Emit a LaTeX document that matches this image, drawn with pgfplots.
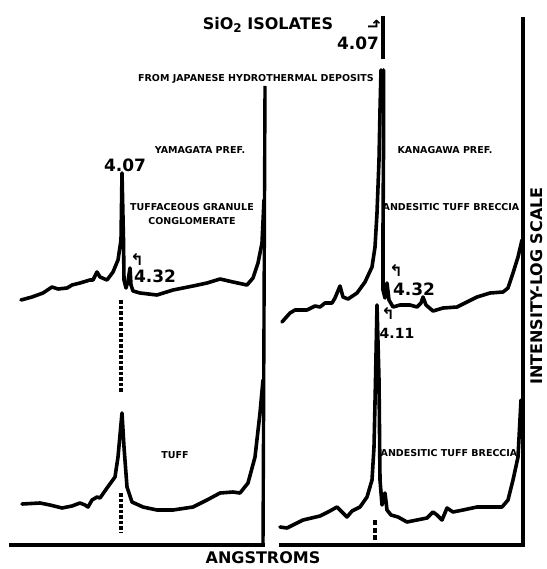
\documentclass[border=0pt]{standalone}
\usepackage{fontspec}
\setmainfont{DejaVu Sans}
\newfontfamily\sym{DejaVu Sans}
\usepackage{pgfplots}
\pgfplotsset{compat=1.18}
\begin{document}
\begin{tikzpicture}
\begin{axis}[
  width=546pt, height=569pt, scale only axis,
  xmin=0, xmax=546, ymin=0, ymax=569, y dir=reverse,
  hide axis, clip=false,
]
\path (axis cs:0,0) rectangle (axis cs:546,569);
% frame lines
\addplot[black, no markers, line width=3.4pt] coordinates {(265,86) (263,546.5)};
\addplot[black, no markers, line width=3.4pt] coordinates {(523,17) (523,546.5)};
\addplot[black, no markers, line width=3.4pt] coordinates {(9,545) (264.5,545)};
\addplot[black, no markers, line width=3.4pt] coordinates {(279,545) (524.5,545)};
% left top trace: tuffaceous granule conglomerate
\addplot[black, no markers, line width=3.6pt, line join=round, line cap=round] coordinates {(21,300) (32,297) (43,293) (52,287) (58,289) (67,288) (72,285) (80,283) (90,280) (93,280) (97,272) (100,277) (107,280) (113,272) (118,260) (121,240) (122,173) (123.5,240) (124,280) (126,288) (128,281) (130,268) (131,285) (133,291) (140,293) (157,295) (173,290) (193,286) (207,283) (220,279) (233,282) (247,285) (253,278) (258,263) (262,243) (264,200)};
% left bottom trace: tuff
\addplot[black, no markers, line width=3.6pt, line join=round, line cap=round] coordinates {(22,504) (40,503) (50,505) (62,508) (72,506) (80,503) (85,505) (88,507) (92,500) (97,497) (100,498) (107,488) (115,477) (118,457) (122,413) (124,447) (127,487) (132,502) (143,507) (157,510) (173,510) (193,507) (207,500) (220,493) (233,492) (240,493) (248,483) (255,457) (260,413) (263,380)};
% right top trace
\addplot[black, no markers, line width=3.6pt, line join=round, line cap=round] coordinates {(282,322) (290,313) (295,310) (307,310) (315,306) (320,307) (325,303) (332,303) (335,298) (340,286) (343,297) (348,299) (357,293) (365,282) (372,267) (375,247) (377,213) (379,160) (380,110) (381,70)};
\addplot[black, no markers, line width=3.4pt] coordinates {(383,59) (383,16)};
\addplot[black, no markers, line width=3.6pt, line join=round, line cap=round] coordinates {(383.5,70) (383.5,150) (383,230) (383,290) (385,298) (387,283) (389,300) (393,307) (400,305) (410,305) (417,307) (421,303) (423,297) (426,305) (433,311) (443,308) (457,307) (467,302) (477,297) (490,293) (503,292) (508,288) (513,273) (518,257) (522,240)};
% right bottom trace
\addplot[black, no markers, line width=3.6pt, line join=round, line cap=round] coordinates {(280,527) (287,528) (303,520) (320,516) (328,512) (337,507) (342,512) (347,517) (352,511) (360,507) (367,497) (372,480) (374,447) (375.5,380) (377,305) (379,380) (380,480) (382,505) (385,493) (387,510) (391,515) (398,517) (407,522) (417,520) (427,518) (433,512) (437,515) (442,520) (447,508) (453,512) (463,510) (477,507) (490,507) (502,507) (508,500) (513,480) (518,457) (521,400)};
% dotted markers
\addplot[black, no markers, line width=3.4pt, dash pattern=on 3.5pt off 2pt] coordinates {(121,300) (121,392)};
\addplot[black, no markers, line width=3.4pt, dash pattern=on 3.5pt off 2pt] coordinates {(121,493) (121,533)};
\addplot[black, no markers, line width=3.6pt, dash pattern=on 5pt off 2.5pt] coordinates {(375,520) (375,541)};
% labels
\node[font=\bfseries\fontsize{16}{16}\selectfont] at (axis cs:268,25) {SiO\raisebox{-0.35ex}{\fontsize{12}{12}\selectfont 2} ISOLATES};
\node[font=\bfseries\fontsize{17}{17}\selectfont] at (axis cs:358,43) {4.07};
\node[font=\sym\bfseries\fontsize{16}{16}\selectfont, rotate=-90] at (axis cs:375,24) {↰};
\node[font=\bfseries\fontsize{9.5}{9.5}\selectfont] at (axis cs:256,79) {FROM JAPANESE HYDROTHERMAL DEPOSITS};
\node[font=\bfseries\fontsize{9.5}{9.5}\selectfont] at (axis cs:200,150) {YAMAGATA PREF.};
\node[font=\bfseries\fontsize{9.5}{9.5}\selectfont] at (axis cs:445,150) {KANAGAWA PREF.};
\node[font=\bfseries\fontsize{17}{17}\selectfont] at (axis cs:125,165) {4.07};
\node[font=\bfseries\fontsize{9.5}{9.5}\selectfont] at (axis cs:192,207) {TUFFACEOUS GRANULE};
\node[font=\bfseries\fontsize{9.5}{9.5}\selectfont] at (axis cs:192,221) {CONGLOMERATE};
\node[font=\bfseries\fontsize{17}{17}\selectfont] at (axis cs:155,276) {4.32};
\node[font=\sym\bfseries\fontsize{16}{16}\selectfont] at (axis cs:137,259) {↰};
\node[font=\bfseries\fontsize{9.5}{9.5}\selectfont] at (axis cs:451,207) {ANDESITIC TUFF BRECCIA};
\node[font=\bfseries\fontsize{17}{17}\selectfont] at (axis cs:414,289) {4.32};
\node[font=\sym\bfseries\fontsize{16}{16}\selectfont] at (axis cs:396,270) {↰};
\node[font=\bfseries\fontsize{14}{14}\selectfont] at (axis cs:397,333) {4.11};
\node[font=\sym\bfseries\fontsize{16}{16}\selectfont] at (axis cs:388,313) {↰};
\node[font=\bfseries\fontsize{9.5}{9.5}\selectfont] at (axis cs:175,455) {TUFF};
\node[font=\bfseries\fontsize{9.5}{9.5}\selectfont] at (axis cs:449,453) {ANDESITIC TUFF BRECCIA};
\node[font=\bfseries\fontsize{16}{16}\selectfont] at (axis cs:263,558) {ANGSTROMS};
\node[font=\bfseries\fontsize{16}{16}\selectfont, rotate=90] at (axis cs:537,286) {INTENSITY-LOG SCALE};
\end{axis}
\end{tikzpicture}
\end{document}
